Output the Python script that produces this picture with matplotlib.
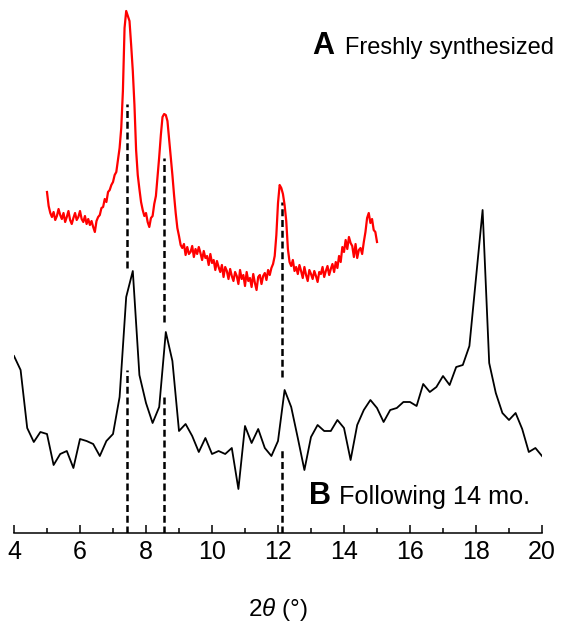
import numpy as np
import matplotlib
matplotlib.use('Agg')
import matplotlib.pyplot as plt

plt.rcParams['font.family'] = ['Liberation Sans', 'DejaVu Sans']
plt.rcParams['mathtext.fontset'] = 'custom'
plt.rcParams['mathtext.rm'] = 'Liberation Sans'
plt.rcParams['mathtext.it'] = 'Liberation Sans:italic'

# freshly synthesized pattern (red), 2theta 5..15, step 0.05
fresh_x = np.round(np.arange(5.0, 15.0001, 0.05), 2)
fresh_y = [341, 327, 320, 316, 321, 313, 317, 324, 318, 314,
           320, 311, 316, 322, 313, 309, 315, 320, 313, 316,
           322, 314, 311, 317, 309, 314, 308, 312, 306, 301,
           312, 316, 318, 325, 326, 334, 331, 341, 343, 348,
           351, 358, 361, 373, 385, 405, 442, 505, 522, 517,
           512, 488, 462, 428, 383, 358, 344, 331, 323, 317,
           320, 311, 306, 315, 317, 329, 337, 356, 376, 398,
           416, 419, 418, 412, 394, 375, 358, 338, 320, 305,
           297, 288, 285, 289, 278, 286, 279, 281, 287, 276,
           284, 279, 286, 280, 273, 282, 275, 277, 268, 279,
           270, 273, 263, 272, 266, 261, 268, 256, 266, 262,
           254, 264, 257, 252, 261, 257, 249, 263, 254, 258,
           247, 261, 252, 255, 246, 259, 250, 243, 256, 258,
           249, 257, 260, 253, 263, 258, 265, 269, 277, 298,
           330, 348, 345, 339, 328, 312, 284, 271, 267, 273,
           262, 266, 259, 268, 262, 255, 266, 258, 252, 263,
           259, 254, 262, 257, 251, 261, 259, 266, 256, 262,
           267, 258, 264, 269, 261, 271, 265, 277, 271, 286,
           281, 293, 284, 296, 290, 287, 276, 289, 275, 283,
           285, 279, 291, 301, 315, 320, 310, 314, 303, 301,
           291]

# after 14 months (black), 2theta 4..20, step 0.2
aged_x = np.round(np.arange(4.0, 20.0001, 0.2), 1)
aged_y = [177, 163, 105, 91, 101, 99, 68, 79, 82, 65,
          94, 92, 89, 77, 92, 99, 136, 236, 262, 158,
          130, 110, 126, 201, 172, 102, 109, 97, 81, 95,
          79, 82, 79, 85, 44, 107, 90, 104, 85, 77,
          92, 143, 126, 95, 63, 96, 108, 102, 102, 113,
          105, 73, 108, 123, 133, 125, 111, 123, 125, 131,
          131, 127, 149, 141, 146, 157, 148, 166, 168, 187,
          255, 323, 170, 140, 120, 113, 120, 104, 81, 85,
          77]

# reference peak positions and the dashed segments (upper / lower)
peak_x = [7.415, 8.555, 12.11]
upper_top = [429, 375, 331]
upper_bot = [265, 211, 156]
lower_top = [163, 138, 85]

fig = plt.figure(figsize=(5.68, 6.22), dpi=100)
ax = fig.add_axes([14 / 568, 89 / 622, 528 / 568, 533 / 622])

for px, ut, ub, lt in zip(peak_x, upper_top, upper_bot, lower_top):
    ax.plot([px, px], [ub, ut], c='k', lw=1.8, ls=(0, (2.8, 1.5)))
    ax.plot([px, px], [0, lt], c='k', lw=1.8, ls=(0, (2.8, 1.5)))

ax.plot(fresh_x, fresh_y, c='#ff0000', lw=1.6)
ax.plot(aged_x, aged_y, c='k', lw=1.3)

ax.set_xlim(4, 20)
ax.set_ylim(0, 533)
for s in ['left', 'right', 'top']:
    ax.spines[s].set_visible(False)
ax.spines['bottom'].set_linewidth(1.1)
ax.set_yticks([])
ax.set_xticks(range(4, 21, 2))
ax.set_xticks(range(5, 20, 2), minor=True)
ax.tick_params(axis='x', which='major', direction='in', length=5.5, width=1.1,
               labelsize=18, pad=5)
ax.tick_params(axis='x', which='minor', direction='in', length=3.5, width=1.1)
ax.set_xlabel(r'$2\theta$ (°)', fontsize=17.5, labelpad=23)
ax.patch.set_alpha(0)

fig.text(312 / 568, 1 - 54 / 622, 'A', fontsize=22, fontweight='bold', va='baseline')
fig.text(345 / 568, 1 - 54 / 622, 'Freshly synthesized', fontsize=17, va='baseline')
fig.text(309 / 568, 1 - 504 / 622, 'B', fontsize=22, fontweight='bold', va='baseline')
fig.text(339 / 568, 1 - 504 / 622, 'Following 14 mo.', fontsize=18.2, va='baseline')

fig.savefig('out.png', dpi=100)
